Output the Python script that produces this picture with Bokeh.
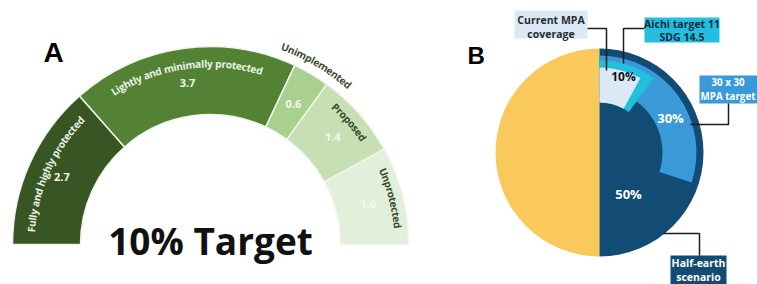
import numpy as np
from bokeh.plotting import figure
from bokeh.models import Range1d
from bokeh.core.properties import value
from bokeh.embed import file_html
from bokeh.resources import INLINE

# ---------------- data ----------------
# Panel A: gauge of the 10 % target (values in % of ocean)
categories_a = ["Fully and highly protected", "Lightly and minimally protected",
                "Unimplemented", "Proposed", "Unprotected"]
values_a = [2.7, 3.7, 0.6, 1.4, 1.6]
value_labels_a = ["2.7", "3.7", "0.6", "1.4", "1.6"]
colors_a = ["#375623", "#548235", "#a9d08e", "#c6e0b4", "#e2efda"]
title_a = "10% Target"

# Panel B: nested ocean-protection targets (% of ocean)
categories_b = ["Current MPA coverage", "Aichi target 11 SDG 14.5",
                "30 x 30 MPA target", "Half-earth scenario"]
values_b = [8, 10, 30, 50]
pct_labels_b = ["", "10%", "30%", "50%"]
colors_b = ["#dbe9f6", "#22bfdf", "#3a9ad9", "#124b74"]
rest_color_b = "#f9c95c"

FONT = "Open Sans"
# approximate Open Sans Bold advance widths (em)
W = {' ': .26, 'a': .59, 'b': .617, 'c': .499, 'd': .617, 'e': .578, 'f': .39,
     'g': .55, 'h': .631, 'i': .29, 'l': .29, 'm': .954, 'n': .631, 'o': .604,
     'p': .617, 'r': .438, 's': .488, 't': .395, 'u': .631, 'y': .541,
     'F': .542, 'L': .523, 'P': .611, 'U': .73}

H = 284
p = figure(width=757, height=284, x_range=Range1d(0, 757), y_range=Range1d(0, 284),
           output_backend="svg", toolbar_location=None, min_border=0,
           x_axis_type=None, y_axis_type=None)
p.outline_line_color = None
p.background_fill_color = "white"
p.border_fill_color = "white"
p.grid.visible = False


def arc_text(s, cx, cy, r, mid_deg, fs, color, style="bold"):
    w = np.array([W.get(ch, 0.58) for ch in s]) * fs
    L = w.sum()
    cum = np.cumsum(w) - w / 2
    th = np.radians(mid_deg) + (L / 2 - cum) / r
    xs = cx + r * np.cos(th)
    ys = cy + r * np.sin(th)
    p.text(x=xs, y=ys, text=list(s), angle=th - np.pi / 2, text_align="center",
           text_baseline="middle", text_font=value(FONT), text_font_size=f"{fs}px",
           text_color=color, text_font_style=style)


# ---------------- Panel A ----------------
cxa, cya = 210, H - 244
r_in, r_out = 130, 198
tot = sum(values_a)
cum = np.concatenate([[0], np.cumsum(values_a)])
starts = np.radians(180 - cum[1:] / tot * 180)
ends = np.radians(180 - cum[:-1] / tot * 180)
p.annular_wedge(x=cxa, y=cya, inner_radius=r_in, outer_radius=r_out,
                start_angle=starts, end_angle=ends, fill_color=colors_a,
                line_color="#eef5ea", line_width=1.5)
mids = np.degrees((starts + ends) / 2)

text_r = [180, 181, 211, 186, 188]
for cat, m, rr in zip(categories_a, mids, text_r):
    col = "#e9f2e2" if cat in ("Fully and highly protected", "Lightly and minimally protected") else "#3a4a30"
    arc_text(cat, cxa, cya, rr, m, 10.2, col)

vr = 163
p.text(x=cxa + vr * np.cos(np.radians(mids)), y=cya + vr * np.sin(np.radians(mids)),
       text=value_labels_a, text_align="center", text_baseline="middle",
       text_font=value(FONT), text_font_size="11px", text_font_style="bold",
       text_color="#f4f8f0")

p.text(x=[cxa], y=[H - 240], text=[title_a], text_align="center", text_baseline="alphabetic",
       text_font=value(FONT), text_font_size="37px", text_font_style="bold",
       text_color="#111111")

p.text(x=[43], y=[H - 52], text=["A"], text_align="left", text_baseline="alphabetic",
       text_font=value("Liberation Sans"), text_font_size="28px", text_font_style="bold",
       text_color="black")

# ---------------- Panel B ----------------
cxb, cyb = 599, H - 152
R = 104
half = values_b[3] / 100 * 360
p.wedge(x=cxb, y=cyb, radius=R, start_angle=np.radians(90), end_angle=np.radians(90 + 360 - half),
        fill_color=rest_color_b, line_color=None)
p.wedge(x=cxb, y=cyb, radius=R, start_angle=np.radians(90 - half), end_angle=np.radians(90),
        fill_color=colors_b[3], line_color=None)
rings = {2: (63, 97), 1: (50, 92), 0: (50, 85)}
for i in (2, 1, 0):
    ri, ro = rings[i]
    p.annular_wedge(x=cxb, y=cyb, inner_radius=ri, outer_radius=ro,
                    start_angle=np.radians(90 - values_b[i] / 100 * 360),
                    end_angle=np.radians(90), fill_color=colors_b[i], line_color=None)

p.text(x=[623, 670, 628], y=[H - 76, H - 117, H - 193], text=pct_labels_b[1:], text_align="center",
       text_baseline="middle", text_font=value(FONT), text_font_style="bold",
       text_font_size=["12px", "13px", "13px"], text_color=["#111111", "white", "white"])

p.text(x=[467], y=[H - 55], text=["B"], text_align="left", text_baseline="alphabetic",
       text_font=value("Liberation Sans"), text_font_size="24px", text_font_style="bold",
       text_color="black")

# label boxes (screen coords: left, right, top, bottom)
boxes = [
    (514, 587, 10, 38),
    (644, 719, 17, 42),
    (699, 757, 75, 103),
    (670, 726, 255, 284),
]
p.quad(left=[b[0] for b in boxes], right=[b[1] for b in boxes],
       top=[H - b[2] for b in boxes], bottom=[H - b[3] for b in boxes],
       fill_color=colors_b, line_color=None)

lines_txt = [("Current MPA", "coverage"), ("Aichi target 11", "SDG 14.5"),
             ("30 x 30", "MPA target"), ("Half-earth", "scenario")]
txt_cols = ["#2b2b2b", "#15293b", "white", "white"]
tx = [550.5, 681.5, 727.5, 698]
ty1 = [19, 23, 82, 262]
ty2 = [33, 36, 96, 276]
fs_b = ["10.5px", "10.5px", "9.8px", "10.5px"]
for t, c, x, y1, y2, f in zip(lines_txt, txt_cols, tx, ty1, ty2, fs_b):
    p.text(x=[x, x], y=[H - y1, H - y2], text=list(t), text_align="center",
           text_baseline="middle", text_font=value(FONT), text_font_style="bold",
           text_font_size=f, text_color=c)

# leader lines (screen coords)
leaders = [
    ([587, 606, 606], [28, 28, 70]),
    ([644, 623, 623], [28, 28, 63]),
    ([728, 728, 690], [103, 124, 124]),
    ([699, 699, 663], [255, 233, 233]),
]
p.multi_line(xs=[l[0] for l in leaders], ys=[[H - v for v in l[1]] for l in leaders],
             line_color="#1c1c1c", line_width=1.5)

open("out.html", "w").write(file_html(p, INLINE))
